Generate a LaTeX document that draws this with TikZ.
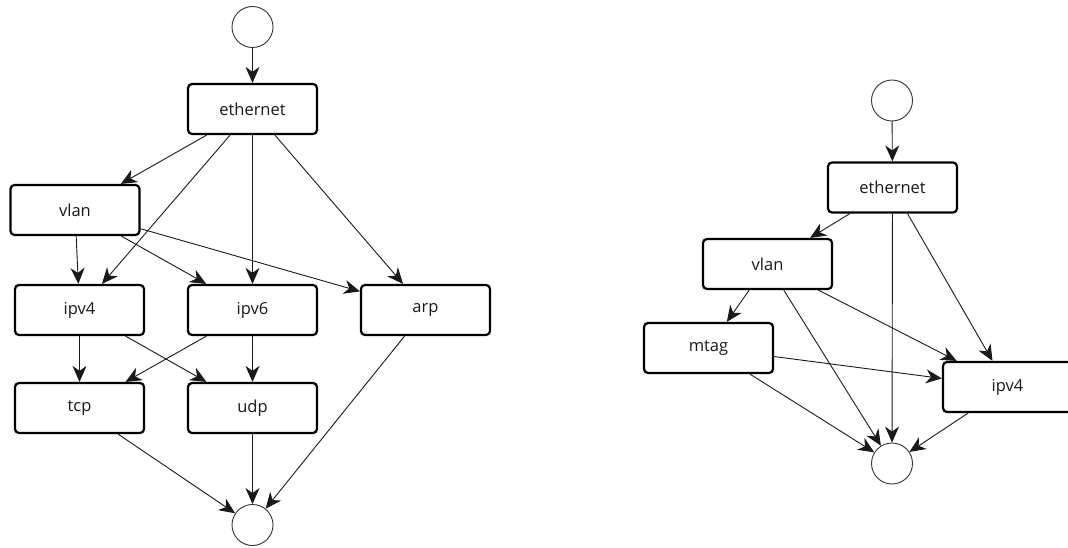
\documentclass[tikz,border=0pt]{standalone}
\usepackage{fontspec}
\setmainfont{Open Sans}
\usetikzlibrary{arrows.meta}
\begin{document}
\begin{tikzpicture}[x=1pt,y=-1pt,
  box/.style={draw=black, line width=2.2pt, rounded corners=4pt, fill=white,
    minimum width=129pt, minimum height=50pt, inner sep=0pt,
    font=\fontsize{16.5}{19}\selectfont, text=black!90},
  term/.style={draw=black!80, line width=0.9pt, circle, minimum size=41pt, inner sep=0pt},
  conn/.style={draw=black!90, line width=0.9pt, -{Stealth[length=16pt,width=14pt,inset=5pt]}}]
\useasboundingbox (0,0) rectangle (1068,548);
\clip (0,0) rectangle (1068,548);
% left graph
\node[term] (s1) at (252.5,27) {};
\node[box] (eth1) at (252.5,109) {ethernet};
\node[box] (vlan1) at (75,210) {vlan};
\node[box] (ipv4a) at (79.5,310) {ipv4};
\node[box] (ipv6a) at (252.5,310) {ipv6};
\node[box] (arp) at (425.5,310) {arp};
\node[box] (tcp) at (79.5,408) {tcp};
\node[box] (udp) at (252.5,408) {udp};
\node[term] (e1) at (252.5,525) {};
\draw[conn] (s1) -- (eth1);
\draw[conn] (eth1) -- (vlan1);
\draw[conn] (eth1) -- (ipv4a);
\draw[conn] (eth1) -- (ipv6a);
\draw[conn] (eth1) -- (arp);
\draw[conn] (vlan1) -- (ipv4a);
\draw[conn] (vlan1) -- (ipv6a);
\draw[conn] (vlan1) -- (arp);
\draw[conn] (ipv4a) -- (tcp);
\draw[conn] (ipv4a) -- (udp);
\draw[conn] (ipv6a) -- (tcp);
\draw[conn] (ipv6a) -- (udp);
\draw[conn] (tcp) -- (e1);
\draw[conn] (udp) -- (e1);
\draw[conn] (arp) -- (e1);
% right graph
\node[term] (s2) at (892,100.5) {};
\node[box] (eth2) at (892.5,187.5) {ethernet};
\node[box] (vlan2) at (767.5,264) {vlan};
\node[box] (mtag) at (708.5,348) {mtag};
\node[box] (ipv4b) at (1007.5,387) {ipv4};
\node[term] (e2) at (892,463.5) {};
\draw[conn] (s2) -- (eth2);
\draw[conn] (eth2) -- (vlan2);
\draw[conn] (eth2) -- (e2);
\draw[conn] (eth2) -- (ipv4b);
\draw[conn] (vlan2) -- (mtag);
\draw[conn] (vlan2) -- (e2);
\draw[conn] (vlan2) -- (ipv4b);
\draw[conn] (mtag) -- (ipv4b);
\draw[conn] (mtag) -- (e2);
\draw[conn] (ipv4b) -- (e2);
\end{tikzpicture}
\end{document}
